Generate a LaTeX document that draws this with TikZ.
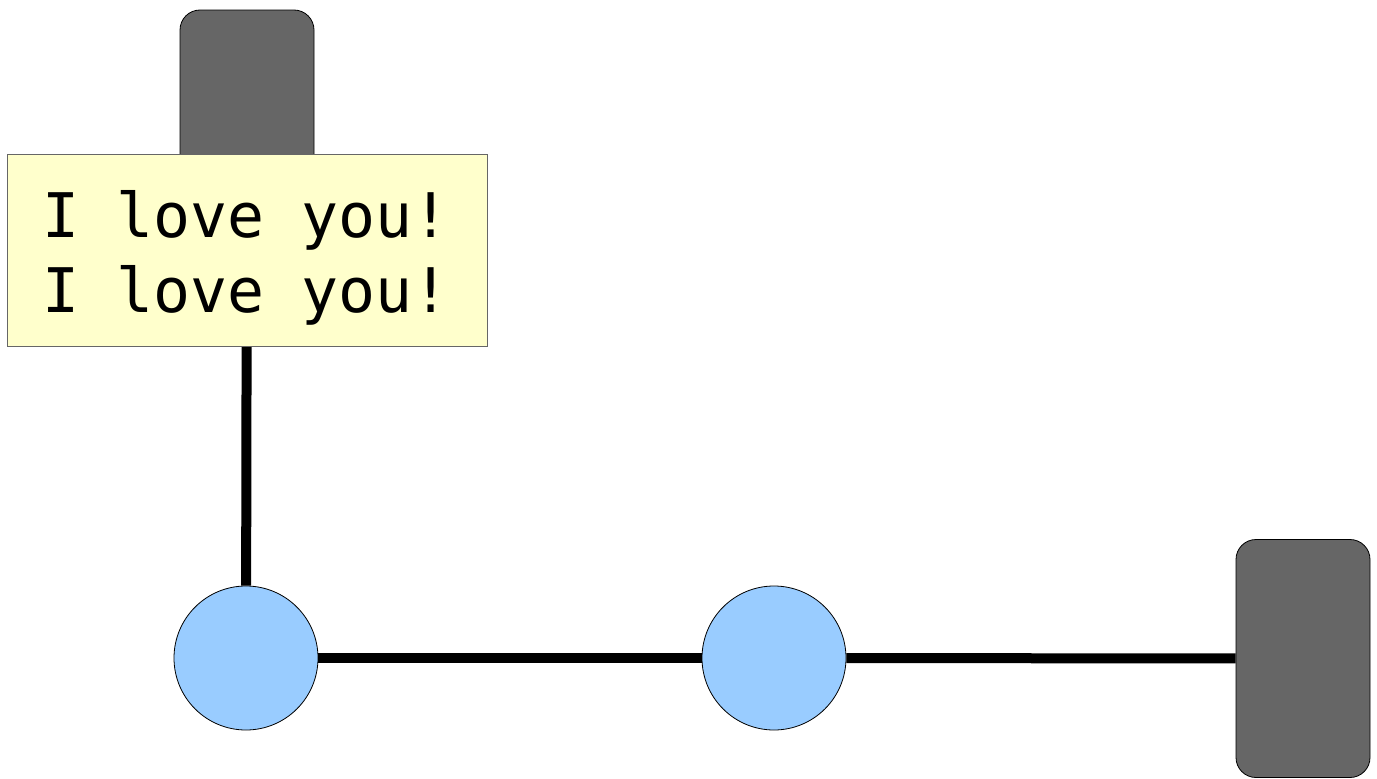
\documentclass[tikz,border=0pt]{standalone}
\usepackage{fontspec}
\setmonofont{DejaVu Sans Mono}
\usetikzlibrary{positioning}

\tikzset{
  bloque/.style={draw=black, line width=0.8pt, fill={rgb,255:red,102;green,102;blue,102},
    rounded corners=20pt, minimum width=134pt, minimum height=238pt, inner sep=0pt},
  nodo/.style={circle, draw=black, line width=0.8pt, fill={rgb,255:red,153;green,204;blue,255},
    minimum size=144pt, inner sep=0pt},
  enlace/.style={line width=10pt, black},
  nota/.style={draw={rgb,255:red,102;green,102;blue,102}, line width=0.8pt,
    fill={rgb,255:red,255;green,255;blue,204}, minimum width=480pt, minimum height=192pt,
    inner sep=0pt},
  texto/.style={align=center, inner sep=0pt, font=\ttfamily\fontsize{61.5pt}{75pt}\selectfont}
}

\begin{document}
\begin{tikzpicture}[x=1pt, y=-1pt]

        % Área de dibujo del tamaño de la referencia
        \useasboundingbox (0,0) rectangle (1377,779);

        % Bloques grises (arriba y a la derecha)
        \node[bloque] (bloqueSup) at (247,129) {};
        \node[bloque] (bloqueDer) at (1303,658.5) {};

        % Los dos círculos azules
        \node[nodo] (circA) at (246,658) {};
        \node[nodo] (circB) at (774,658) {};

        % Enlaces gruesos entre los nodos
        \draw[enlace] (bloqueSup) -- (circA);
        \draw[enlace] (circA) -- (circB);
        \draw[enlace] (circB) -- (bloqueDer);

        % Nota amarilla encima del enlace vertical
        \node[nota] (nota) at (247,250) {};
        \node[texto] (textoNota) at (246,258) {I love you!\\I love you!};

\end{tikzpicture}
\end{document}
